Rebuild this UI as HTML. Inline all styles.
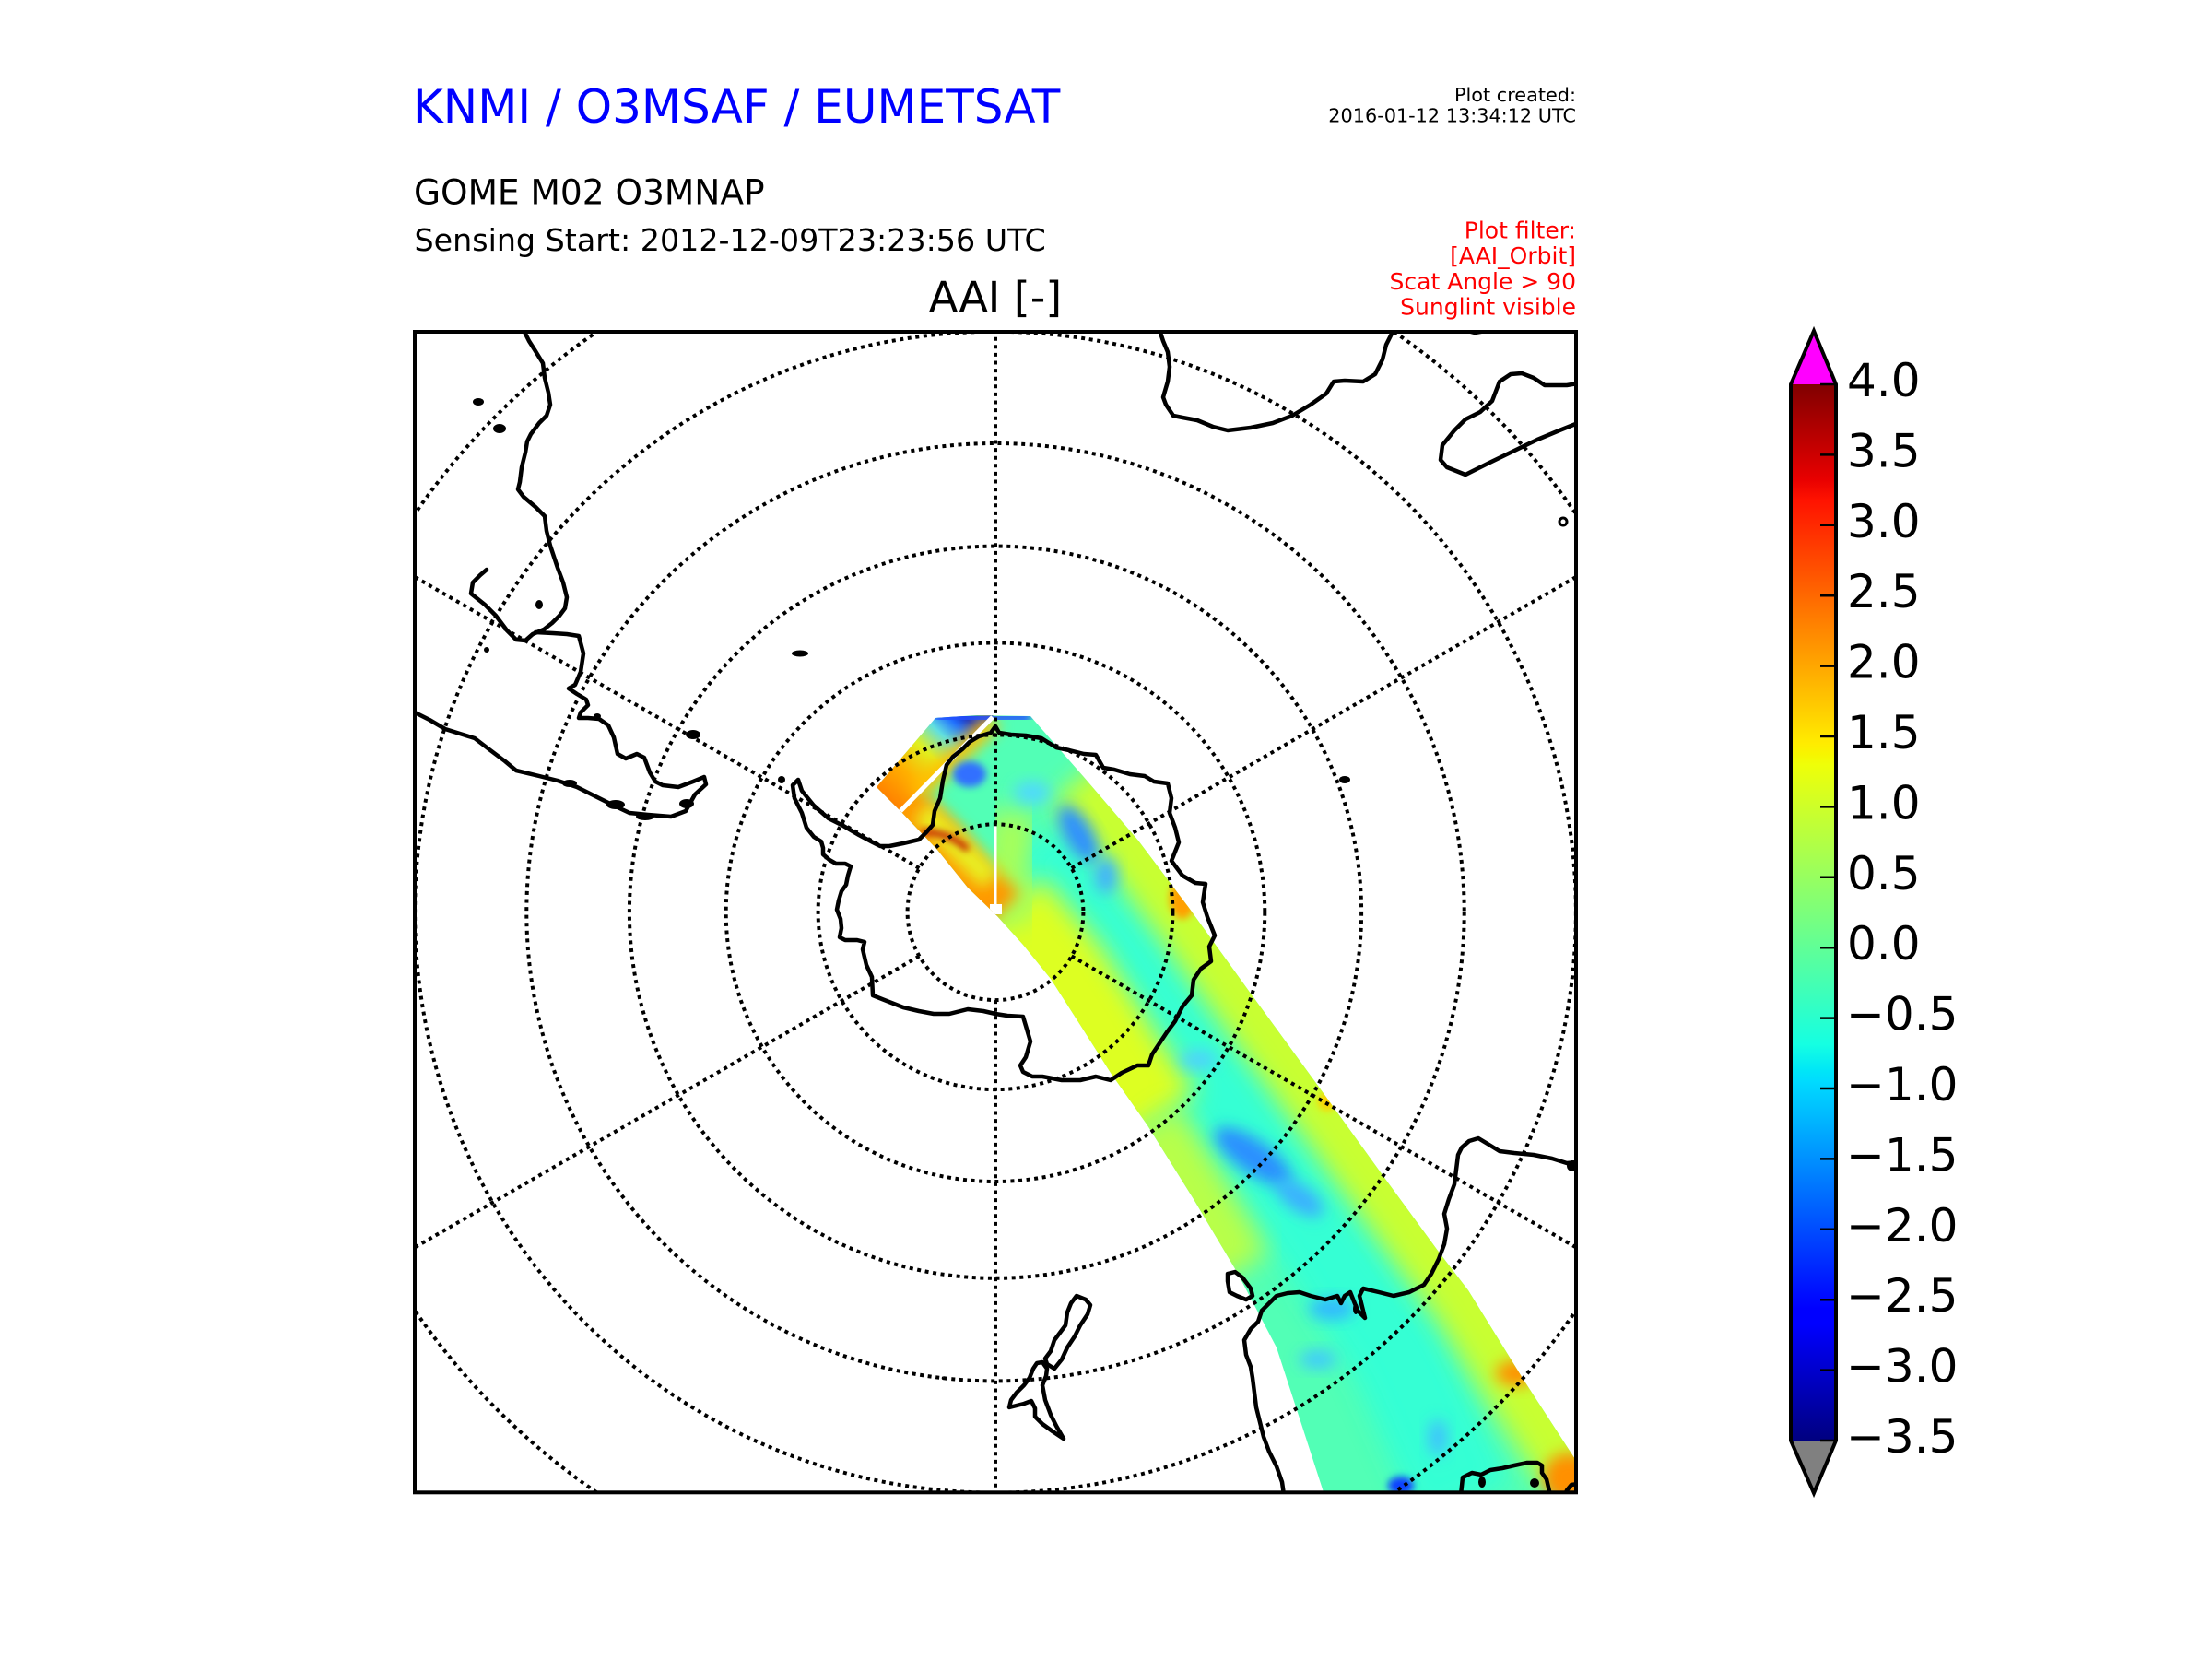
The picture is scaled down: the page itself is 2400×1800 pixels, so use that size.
<!DOCTYPE html>
<html><head><meta charset="utf-8"><style>
html,body{margin:0;padding:0;background:#fff;}
svg{display:block;}
text{font-family:"DejaVu Sans","Liberation Sans",sans-serif;}
</style></head><body>
<svg width="2400" height="1800" viewBox="0 0 2400 1800" xmlns="http://www.w3.org/2000/svg">
<defs>
 <clipPath id="box"><rect x="450" y="360" width="1260" height="1259"/></clipPath>
 <clipPath id="sw"><polygon points="951,854 1015,779 1060,776 1118,777 1175,842 1235,912 1290,985 1357,1078 1430,1178 1500,1275 1560,1357 1593,1400 1653,1497 1716,1594 1716,1630 1440,1630 1436,1619 1412,1545 1385,1462 1342,1380 1295,1301 1245,1221 1205,1164 1172,1112 1140,1062 1110,1025 1082,994 1050,963 1017,922 977,880"/></clipPath>
 <filter id="b4" x="-50%" y="-50%" width="200%" height="200%"><feGaussianBlur stdDeviation="4"/></filter>
 <filter id="b8" x="-50%" y="-50%" width="200%" height="200%"><feGaussianBlur stdDeviation="8"/></filter>
 <filter id="b14" x="-50%" y="-50%" width="200%" height="200%"><feGaussianBlur stdDeviation="14"/></filter>
 <linearGradient id="ulg" gradientUnits="userSpaceOnUse" x1="962" y1="868" x2="1047" y2="778">
  <stop offset="0" stop-color="#ff8000"/><stop offset="0.3" stop-color="#ffb000"/>
  <stop offset="0.55" stop-color="#e0f020"/><stop offset="0.75" stop-color="#60e0e0"/>
  <stop offset="0.9" stop-color="#2070ff"/><stop offset="1" stop-color="#1030d0"/>
 </linearGradient>
 <linearGradient id="jet" x1="0" y1="1" x2="0" y2="0">
  <stop offset="0" stop-color="#000080"/><stop offset="0.11" stop-color="#0000ff"/>
  <stop offset="0.125" stop-color="#0000ff"/><stop offset="0.34" stop-color="#00dbff"/>
  <stop offset="0.35" stop-color="#00e6f7"/><stop offset="0.375" stop-color="#15ffe2"/>
  <stop offset="0.64" stop-color="#efff08"/><stop offset="0.65" stop-color="#f7f500"/>
  <stop offset="0.66" stop-color="#ffec00"/><stop offset="0.89" stop-color="#ff1300"/>
  <stop offset="0.91" stop-color="#e80000"/><stop offset="1" stop-color="#800000"/>
 </linearGradient>
</defs>

<!-- Header texts -->
<text x="448" y="133" font-size="50" fill="#0000ff">KNMI / O3MSAF / EUMETSAT</text>
<text x="449" y="221.5" font-size="37.5" fill="#000">GOME M02 O3MNAP</text>
<text x="449.5" y="272" font-size="33.3" fill="#000">Sensing Start: 2012-12-09T23:23:56 UTC</text>
<text x="1080" y="338" font-size="45.8" fill="#000" text-anchor="middle">AAI [-]</text>
<text x="1710" y="110" font-size="20.8" fill="#000" text-anchor="end">Plot created:</text>
<text x="1710" y="132.7" font-size="20.8" fill="#000" text-anchor="end">2016-01-12 13:34:12 UTC</text>
<g font-size="25" fill="#ff0000" text-anchor="end">
 <text x="1710" y="258.3">Plot filter:</text>
 <text x="1710" y="286.1">[AAI_Orbit]</text>
 <text x="1710" y="313.9">Scat Angle &gt; 90</text>
 <text x="1710" y="341.7">Sunglint visible</text>
</g>

<!-- Map -->
<g clip-path="url(#box)">
 <!-- swath -->
 <g clip-path="url(#sw)">
  <rect x="900" y="760" width="830" height="880" fill="#52ffb6"/>
  <polyline points="1150,900 1230,1040 1330,1190 1430,1330 1520,1470 1590,1630" fill="none" stroke="#30ffd8" stroke-width="110" filter="url(#b14)" opacity="0.9"/>
  <polyline points="1175,842 1235,912 1290,985 1357,1078 1430,1178 1500,1275 1560,1357 1593,1400 1653,1497 1716,1594" fill="none" stroke="#c8ff30" stroke-width="90" filter="url(#b14)"/>
  <polyline points="1082,994 1140,1062 1205,1164 1245,1221" fill="none" stroke="#ddff22" stroke-width="130" filter="url(#b14)"/>
  <polyline points="1245,1221 1295,1301 1342,1380" fill="none" stroke="#b8ff48" stroke-width="80" filter="url(#b14)"/>
  <polyline points="1100,880 1090,960 1110,1000" fill="none" stroke="#a8ff58" stroke-width="50" filter="url(#b14)"/>
  <polyline points="965,872 1017,922 1050,963 1082,994" fill="none" stroke="#ff9800" stroke-width="70" filter="url(#b8)"/>
  <polyline points="1000,880 1045,925 1075,955" fill="none" stroke="#e8f020" stroke-width="26" filter="url(#b8)"/>
  <polygon points="945,858 1015,778 1078,776 978,881" fill="url(#ulg)"/>
  <polyline points="995,860 1078,782" fill="none" stroke="#ffc000" stroke-width="20" filter="url(#b8)"/>
  <polyline points="1015,780 1118,778" fill="none" stroke="#2050ff" stroke-width="14" filter="url(#b4)" opacity="0.85"/>
  <ellipse cx="1052" cy="840" rx="18" ry="14" fill="#3070ff" filter="url(#b4)"/>
  <path d="M1000,903 Q1030,902 1050,922" fill="none" stroke="#c00000" stroke-width="6" filter="url(#b4)"/>
  <ellipse cx="1283" cy="975" rx="14" ry="22" fill="#ffa000" filter="url(#b4)"/>
  <ellipse cx="1440" cy="1195" rx="10" ry="10" fill="#ffd000" filter="url(#b4)"/>
  <ellipse cx="1645" cy="1490" rx="22" ry="14" fill="#ff9000" filter="url(#b8)"/>
  <ellipse cx="1702" cy="1604" rx="28" ry="28" fill="#ff9000" filter="url(#b8)"/>
  <ellipse cx="1170" cy="905" rx="15" ry="35" transform="rotate(-30 1170 905)" fill="#2f8fff" filter="url(#b8)"/>
  <ellipse cx="1200" cy="950" rx="12" ry="20" fill="#40b0ff" filter="url(#b8)"/>
  <ellipse cx="1120" cy="860" rx="20" ry="12" fill="#50d8ff" filter="url(#b8)"/>
  <ellipse cx="1360" cy="1255" rx="50" ry="18" transform="rotate(35 1360 1255)" fill="#2a90ff" filter="url(#b8)"/>
  <ellipse cx="1410" cy="1300" rx="30" ry="14" transform="rotate(35 1410 1300)" fill="#3ab0ff" filter="url(#b8)"/>
  <ellipse cx="1300" cy="1150" rx="20" ry="10" fill="#50d0ff" filter="url(#b8)"/>
  <ellipse cx="1445" cy="1420" rx="25" ry="12" fill="#30b8ff" filter="url(#b8)"/>
  <ellipse cx="1430" cy="1475" rx="20" ry="10" fill="#40c8ff" filter="url(#b8)"/>
  <ellipse cx="1520" cy="1612" rx="14" ry="10" fill="#1040ff" filter="url(#b4)"/>
  <ellipse cx="1560" cy="1560" rx="10" ry="20" fill="#40c0ff" filter="url(#b8)"/>
  <line x1="977" y1="880" x2="1077" y2="778" stroke="#fff" stroke-width="5"/>
  <line x1="1080" y1="893" x2="1080" y2="988" stroke="#fff" stroke-width="3"/>
  <rect x="1074" y="981" width="13" height="11" fill="#fff"/>
 </g>

 <!-- coastlines -->
 <g fill="none" stroke="#000" stroke-width="4.5" stroke-linejoin="round" stroke-linecap="round">
  <path d="M860,852 L866,846 L870,858 L883,874 L899,888 L915,896 L932,906 L947,914 L955,918 L965,918 L980,915 L997,911 L1005,903 L1012,895 L1014,880 L1020,866 L1023,847 L1027,830 L1034,821 L1044,813 L1052,805 L1062,799 L1075,795 L1080,788 L1084,795 L1097,797 L1113,798 L1130,801 L1146,811 L1160,814 L1176,818 L1189,819 L1197,833 L1209,835 L1226,840 L1242,842 L1252,848 L1267,850 L1271,866 L1269,882 L1275,898 L1279,914 L1271,934 L1283,950 L1297,958 L1308,959 L1305,979 L1310,995 L1318,1015 L1312,1027 L1314,1043 L1303,1051 L1295,1063 L1293,1080 L1283,1092 L1275,1108 L1266,1120 L1258,1132 L1250,1144 L1246,1156 L1234,1156 L1217,1164 L1205,1172 L1189,1168 L1172,1172 L1152,1172 L1131,1168 L1120,1168 L1110,1163 L1107,1156 L1113,1147 L1118,1130 L1113,1113 L1110,1103 L1093,1102 L1080,1100 L1067,1097 L1050,1095 L1030,1100 L1013,1100 L997,1097 L980,1093 L957,1084 L947,1080 L946,1060 L940,1047 L936,1030 L938,1022 L930,1020 L917,1020 L911,1017 L913,1007 L912,997 L908,987 L910,977 L913,967 L918,960 L920,950 L923,940 L917,937 L907,937 L900,933 L893,927 L893,920 L891,913 L883,908 L875,898 L870,882 L862,866 Z"/>
  <path d="M568,358 L574,370 L581,381 L589,394 L591,410 L595,426 L597,439 L593,451 L585,459 L576,471 L572,479 L570,491 L566,507 L564,523 L562,531 L568,539 L581,550 L591,560 L593,576 L597,592 L601,604 L605,616 L611,632 L615,648 L613,660 L607,668 L599,676 L590,683 L578,688 L570,695 L560,694 L550,684 L538,668 L526,656 L511,644 L513,632 L521,624 L528,618"/>
  <path d="M581,686 L600,687 L615,688 L628,690 L633,709 L630,729 L624,743 L617,747 L626,753 L636,759 L638,765 L630,773 L628,779 L638,779 L650,780 L660,787 L666,800 L670,818 L679,823 L691,818 L699,822 L705,838 L711,848 L719,852 L736,854 L752,848 L764,843 L766,851 L754,862 L744,880 L728,886 L703,884 L683,882 L666,874 L646,864 L626,854 L605,847 L585,842 L560,836 L548,826 L532,814 L515,801 L499,796 L483,791 L466,781 L450,773"/>
  <path d="M1258,358 L1262,370 L1267,382 L1269,398 L1267,414 L1262,431 L1265,439 L1273,451 L1283,453 L1299,456 L1316,463 L1332,467 L1357,464 L1381,459 L1402,451 L1422,439 L1439,427 L1447,414 L1459,413 L1479,414 L1492,406 L1500,390 L1504,374 L1510,362 L1516,358"/>
  <path d="M1588,358 L1600,361 L1612,359"/>
  <path d="M1712,416 L1700,418 L1676,418 L1664,410 L1651,405 L1639,406 L1627,414 L1619,435 L1606,447 L1590,455 L1578,467 L1565,483 L1563,499 L1570,507 L1590,515 L1614,503 L1643,489 L1668,477 L1692,467 L1712,459"/>
  <path d="M1712,1261 L1700,1262 L1684,1257 L1664,1253 L1643,1251 L1627,1249 L1614,1241 L1604,1235 L1594,1238 L1586,1245 L1582,1253 L1580,1269 L1578,1285 L1572,1301 L1567,1317 L1570,1333 L1567,1350 L1561,1366 L1553,1382 L1545,1394 L1529,1402 L1512,1406 L1496,1402 L1479,1398 L1475,1406 L1481,1430 L1473,1422 L1465,1402 L1459,1406 L1455,1414 L1451,1406 L1438,1410 L1422,1406 L1410,1402 L1397,1403 L1385,1406 L1377,1414 L1369,1422 L1365,1434 L1357,1442 L1350,1454 L1352,1470 L1357,1483 L1359,1495 L1361,1511 L1363,1527 L1367,1543 L1371,1559 L1377,1575 L1385,1591 L1391,1608 L1393,1622"/>
  <path d="M1332,1382 L1340,1380 L1348,1386 L1357,1398 L1359,1406 L1352,1410 L1342,1406 L1334,1402 L1332,1390 Z"/>
  <path d="M1178,1410 L1168,1406 L1162,1414 L1158,1424 L1156,1438 L1150,1446 L1144,1454 L1140,1466 L1134,1474 L1136,1480 L1144,1485 L1152,1475 L1158,1462 L1166,1450 L1172,1438 L1180,1426 L1183,1416 Z"/>
  <path d="M1131,1478 L1125,1479 L1121,1485 L1117,1495 L1111,1503 L1103,1511 L1097,1519 L1095,1527 L1103,1525 L1111,1523 L1119,1520 L1123,1528 L1123,1537 L1131,1545 L1142,1553 L1154,1561 L1146,1547 L1140,1535 L1134,1519 L1131,1503 L1135,1493 L1136,1485 Z"/>
  <path d="M1585,1622 L1587,1603 L1597,1598 L1607,1600 L1617,1595 L1630,1593 L1643,1590 L1657,1587 L1668,1587 L1673,1590 L1673,1598 L1678,1605 L1682,1622"/>
  <path d="M1698,1622 L1700,1617 L1705,1611 L1712,1610"/>
  <circle cx="1696" cy="566" r="4" stroke-width="3"/>
 </g>
 <g fill="#000">
  <ellipse cx="519" cy="436" rx="6" ry="4"/>
  <ellipse cx="542" cy="465" rx="7" ry="5"/>
  <ellipse cx="585" cy="656" rx="4" ry="5"/>
  <ellipse cx="528" cy="705" rx="3" ry="3"/>
  <ellipse cx="752" cy="797" rx="8" ry="5"/>
  <ellipse cx="868" cy="709" rx="9" ry="3.5"/>
  <ellipse cx="848" cy="846" rx="4" ry="4"/>
  <ellipse cx="648" cy="777" rx="4" ry="3"/>
  <ellipse cx="1459" cy="846" rx="6" ry="4"/>
  <ellipse cx="1706" cy="1265" rx="6" ry="6"/>
  <ellipse cx="1608" cy="1608" rx="4" ry="6"/>
  <ellipse cx="1665" cy="1609" rx="5" ry="5"/>
  <ellipse cx="618" cy="850" rx="8" ry="4"/>
  <ellipse cx="668" cy="873" rx="10" ry="5"/>
  <ellipse cx="700" cy="886" rx="10" ry="4"/>
  <ellipse cx="745" cy="872" rx="8" ry="5"/>
  <ellipse cx="1471" cy="1420" rx="3" ry="6"/>
 </g>

 <!-- graticule -->
 <g fill="none" stroke="#000" stroke-width="4" stroke-dasharray="4 4.6">
  <circle cx="1080" cy="989.7" r="95.4"/>
  <circle cx="1080" cy="989.7" r="192.4"/>
  <circle cx="1080" cy="989.7" r="292.3"/>
  <circle cx="1080" cy="989.7" r="397.1"/>
  <circle cx="1080" cy="989.7" r="508.7"/>
  <circle cx="1080" cy="989.7" r="629.9"/>
  <circle cx="1080" cy="989.7" r="763.9"/>
  <line x1="1080" y1="894.3" x2="1080" y2="300"/>
  <line x1="1080" y1="1085.1" x2="1080" y2="1700"/>
  <line x1="1162.6" y1="942" x2="1946" y2="489.7"/>
  <line x1="997.4" y1="942" x2="214" y2="489.7"/>
  <line x1="997.4" y1="1037.4" x2="214" y2="1489.7"/>
  <line x1="1162.6" y1="1037.4" x2="1946" y2="1489.7"/>
 </g>
</g>
<rect x="450" y="360" width="1260" height="1259.3" fill="none" stroke="#000" stroke-width="4"/>

<!-- Colorbar -->
<polygon points="1943,417 1968,359 1992,417" fill="#ff00ff"/>
<polygon points="1943,1563 1968,1620 1992,1563" fill="#808080"/>
<rect x="1943" y="417" width="49" height="1146" fill="url(#jet)"/>
<g stroke="#000" stroke-width="2.5">
 <line x1="1975" y1="417" x2="1992" y2="417"/>
 <line x1="1975" y1="493.4" x2="1992" y2="493.4"/>
 <line x1="1975" y1="569.8" x2="1992" y2="569.8"/>
 <line x1="1975" y1="646.2" x2="1992" y2="646.2"/>
 <line x1="1975" y1="722.6" x2="1992" y2="722.6"/>
 <line x1="1975" y1="799" x2="1992" y2="799"/>
 <line x1="1975" y1="875.4" x2="1992" y2="875.4"/>
 <line x1="1975" y1="951.8" x2="1992" y2="951.8"/>
 <line x1="1975" y1="1028.2" x2="1992" y2="1028.2"/>
 <line x1="1975" y1="1104.6" x2="1992" y2="1104.6"/>
 <line x1="1975" y1="1181" x2="1992" y2="1181"/>
 <line x1="1975" y1="1257.4" x2="1992" y2="1257.4"/>
 <line x1="1975" y1="1333.8" x2="1992" y2="1333.8"/>
 <line x1="1975" y1="1410.2" x2="1992" y2="1410.2"/>
 <line x1="1975" y1="1486.6" x2="1992" y2="1486.6"/>
 <line x1="1975" y1="1563" x2="1992" y2="1563"/>
</g>
<polygon points="1943,417 1968,359 1992,417 1992,1563 1968,1620 1943,1563" fill="none" stroke="#000" stroke-width="4" stroke-linejoin="miter"/>
<g font-size="50" fill="#000">
 <text x="2004" y="430">4.0</text>
 <text x="2004" y="506.4">3.5</text>
 <text x="2004" y="582.8">3.0</text>
 <text x="2004" y="659.2">2.5</text>
 <text x="2004" y="735.6">2.0</text>
 <text x="2004" y="812">1.5</text>
 <text x="2004" y="888.4">1.0</text>
 <text x="2004" y="964.8">0.5</text>
 <text x="2004" y="1041.2">0.0</text>
 <text x="2003" y="1117.6">−0.5</text>
 <text x="2003" y="1194">−1.0</text>
 <text x="2003" y="1270.4">−1.5</text>
 <text x="2003" y="1346.8">−2.0</text>
 <text x="2003" y="1423.2">−2.5</text>
 <text x="2003" y="1499.6">−3.0</text>
 <text x="2003" y="1576">−3.5</text>
</g>
</svg>
</body></html>
